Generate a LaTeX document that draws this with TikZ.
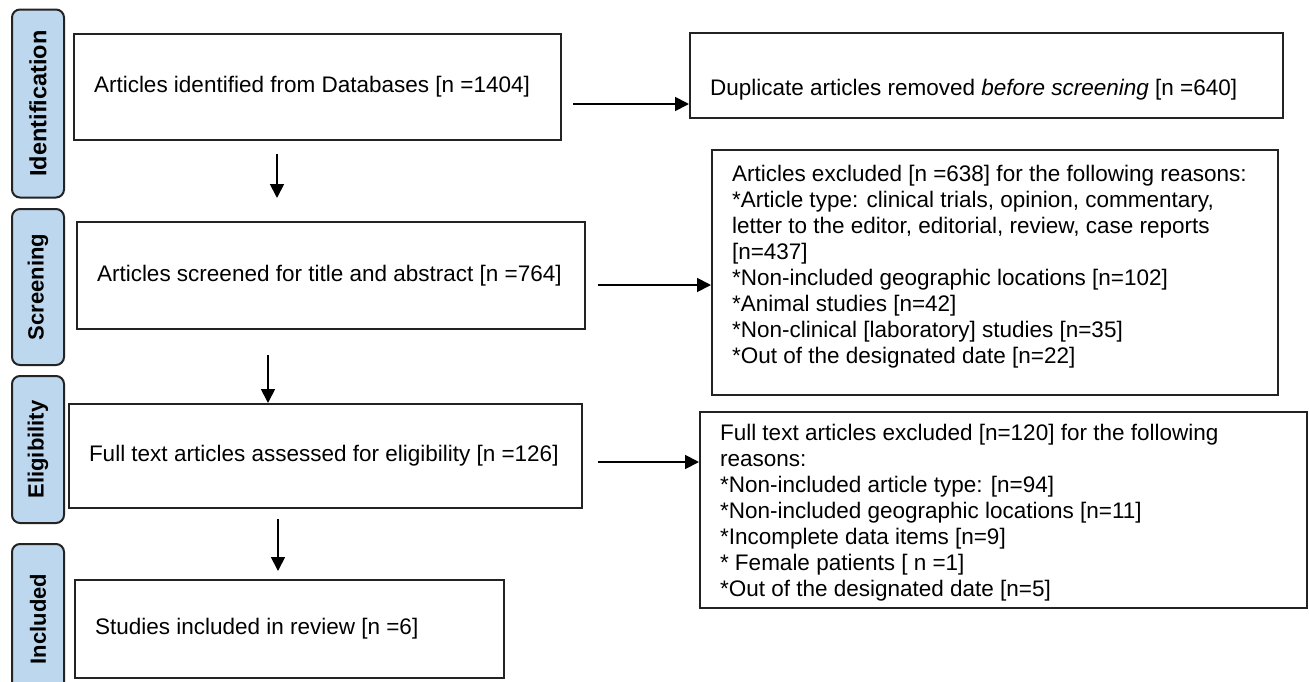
\documentclass[tikz,border=0pt]{standalone}
\usepackage{fontspec}
\setmainfont{Liberation Sans}
\usetikzlibrary{arrows.meta,calc}
\definecolor{stageblue}{RGB}{189,215,238}
\definecolor{edgegray}{RGB}{35,35,35}
\begin{document}
\begin{tikzpicture}[x=1pt,y=-1pt,
  box/.style={draw=edgegray, line width=2pt, inner xsep=20pt, inner ysep=0pt, font=\fontsize{22.5}{26}\selectfont},
  sidebox/.style={draw=edgegray, line width=2pt, inner xsep=20pt, inner ysep=0pt, font=\fontsize{22.5}{26}\selectfont},
  stage/.style={draw=edgegray, line width=2pt, fill=stageblue, rounded corners=8pt, rotate=90, inner sep=0pt, font=\bfseries\fontsize{22}{24}\selectfont, minimum height=52pt},
  arr/.style={line width=1.8pt, draw=black, -{Triangle[length=14pt,width=14pt]}}]
\useasboundingbox (0,0) rectangle (1309,681);
% stage labels
\node[stage, minimum width=188pt, font=\bfseries\fontsize{23.5}{26}\selectfont] (id) at (38,103.5) {Identification};
\node[stage, minimum width=156pt] (sc) at (38,287) {Screening};
\node[stage, minimum width=147pt] (el) at (38,449.5) {Eligibility};
\node[stage, minimum width=150pt] (inc) at (38,619) {Included};
% main boxes
\node[box, minimum width=487pt, minimum height=106pt] (b1) at (317.5,87) {\makebox[447pt][l]{Articles identified from Databases [n =1404]}};
\node[box, minimum width=508pt, minimum height=107pt] (b2) at (331,275.5) {\makebox[468pt][l]{Articles screened for title and abstract [n =764]}};
\node[box, minimum width=513pt, minimum height=104pt] (b3) at (325.5,456) {\makebox[473pt][l]{Full text articles assessed for eligibility [n =126]}};
\node[box, minimum width=429pt, minimum height=98pt] (b4) at (289.5,629) {\makebox[389pt][l]{Studies included in review [n =6]}};
% side boxes
\node[sidebox] (r1) at (986.5,75.5) {\parbox[c][85pt][t]{553pt}{\rule{0pt}{62pt}Duplicate articles removed \textit{before screening} [n =640]}};
\node[sidebox] (r2) at (995,272.5) {\parbox[c][245pt][t]{526pt}{\rule{0pt}{31pt}Articles excluded [n =638] for the following reasons:\\{}%
*Article type: clinical trials, opinion, commentary,\\{}%
letter to the editor, editorial, review, case reports\\{}%
[n=437]\\{}%
*Non-included geographic locations [n=102]\\{}%
*Animal studies [n=42]\\{}%
*Non-clinical [laboratory] studies [n=35]\\{}%
*Out of the designated date [n=22]}};
\node[sidebox] (r3) at (1003.5,510) {\parbox[c][196pt][t]{567pt}{\rule{0pt}{28pt}Full text articles excluded [n=120] for the following\\{}%
reasons:\\{}%
*Non-included article type: [n=94]\\{}%
*Non-included geographic locations [n=11]\\{}%
*Incomplete data items [n=9]\\{}%
* Female patients [ n =1]\\{}%
*Out of the designated date [n=5]}};
% horizontal connectors
\coordinate (s1) at ($(b1.east)+(11,17)$);
\draw[arr] (s1) -- (s1 -| r1.west);
\coordinate (s2) at ($(b2.east)+(12,9.5)$);
\draw[arr] (s2) -- (s2 -| r2.west);
\coordinate (s3) at ($(b3.east)+(15,6)$);
\draw[arr] (s3) -- (s3 -| r3.west);
% vertical connectors
\coordinate (d1) at ($(b1.south)+(-40.5,13)$);
\coordinate (e1) at ($(b2.north)+(0,-23)$);
\draw[arr] (d1) -- (d1 |- e1);
\coordinate (d2) at ($(b2.south)+(-63,25)$);
\draw[arr] (d2) -- (d2 |- b3.north);
\coordinate (d3) at ($(b3.south)+(-47.5,10)$);
\coordinate (e3) at ($(b4.north)+(0,-8)$);
\draw[arr] (d3) -- (d3 |- e3);
\end{tikzpicture}
\end{document}
